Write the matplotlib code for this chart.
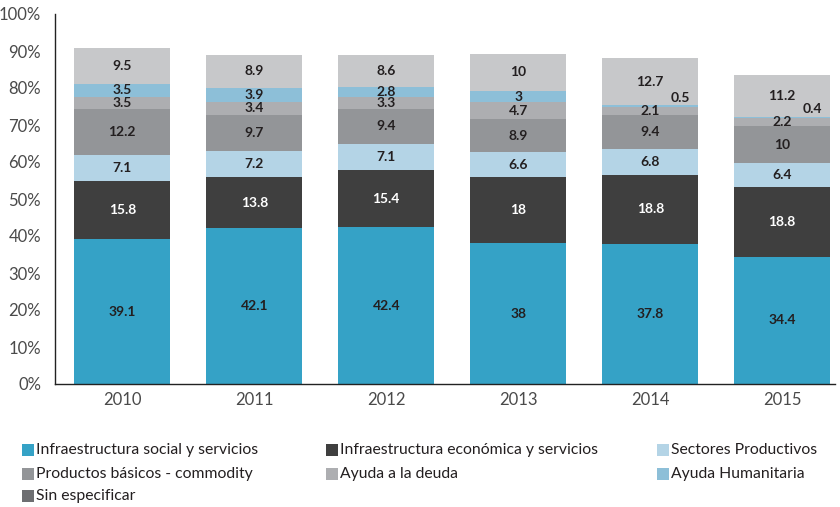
import matplotlib
matplotlib.use("Agg")
from matplotlib import pyplot as plt
from matplotlib.patches import Rectangle
import numpy as np

years = ["2010", "2011", "2012", "2013", "2014", "2015"]

social = [39.1, 42.1, 42.4, 38, 37.8, 34.4]
economica = [15.8, 13.8, 15.4, 18, 18.8, 18.8]
sectores = [7.1, 7.2, 7.1, 6.6, 6.8, 6.4]
productos = [12.2, 9.7, 9.4, 8.9, 9.4, 10]
deuda = [3.5, 3.4, 3.3, 4.7, 2.1, 2.2]
humanitaria = [3.5, 3.9, 2.8, 3, 0.5, 0.4]
sin_especificar = [9.5, 8.9, 8.6, 10, 12.7, 11.2]

series = [
    ("Infraestructura social y servicios", social, "#35a2c6"),
    ("Infraestructura económica y servicios", economica, "#3f3f3f"),
    ("Sectores Productivos", sectores, "#b4d4e6"),
    ("Productos básicos - commodity", productos, "#939598"),
    ("Ayuda a la deuda", deuda, "#adaeb1"),
    ("Ayuda Humanitaria", humanitaria, "#8dbfd8"),
    ("Sin especificar", sin_especificar, "#c7c8ca"),
]
# legend swatches in the source use slightly different greys
legend_colors = ["#35a2c6", "#3f3f3f", "#b4d4e6", "#939598", "#adaeb1", "#8dbfd8", "#6d6e71"]

plt.rcParams['font.family'] = ['Lato', 'DejaVu Sans']

fig = plt.figure(figsize=(8.4, 5.07), dpi=100)
ax = fig.add_axes([55 / 840, 1 - 384 / 507, 780 / 840, 370 / 507])

x = np.arange(len(years))
bottom = np.zeros(len(years))
for name, vals, color in series:
    vals = np.array(vals, dtype=float)
    ax.bar(x, vals, 0.727, bottom=bottom, color=color, linewidth=0)
    txt_color = "white" if color == "#3f3f3f" else "#231f20"
    for i, v in enumerate(vals):
        y = bottom[i] + v / 2
        xi = x[i]
        if v < 1:
            xi = x[i] + 0.23
            y = bottom[i] + v / 2 + 2.2
        ax.text(xi, y, f"{v:g}", ha="center", va="center",
                fontsize=10, fontweight="bold", color=txt_color)
    bottom += vals

ax.set_xlim(-0.51, 5.4)
ax.set_ylim(0, 100)
ax.set_yticks(np.arange(0, 101, 10))
ax.set_yticklabels([f"{t}%" for t in range(0, 101, 10)])
ax.set_xticks(x)
ax.set_xticklabels(years)
ax.tick_params(length=0, labelsize=12, labelcolor="#4a4a4a")
ax.tick_params(axis="y", pad=10)
ax.tick_params(axis="x", pad=6)
for s in ["top", "right"]:
    ax.spines[s].set_visible(False)
for s in ["left", "bottom"]:
    ax.spines[s].set_color("#222222")
    ax.spines[s].set_linewidth(1.0)

# legend laid out by hand to match the source columns
cols = [22, 326, 657]
rows = [450, 474, 496]
slots = [(0, 0), (1, 0), (2, 0), (0, 1), (1, 1), (2, 1), (0, 2)]
for (name, vals, color), lc, (c, r) in zip(series, legend_colors, slots):
    px, py = cols[c], rows[r]
    fig.patches.append(Rectangle((px / 840, (507 - py - 6) / 507), 12 / 840, 12 / 507,
                                 transform=fig.transFigure, color=lc, linewidth=0))
    fig.text((px + 14) / 840, (507 - py) / 507, name, ha="left", va="center",
             fontsize=11.3, color="#231f20")

fig.savefig("out.png", dpi=100)
